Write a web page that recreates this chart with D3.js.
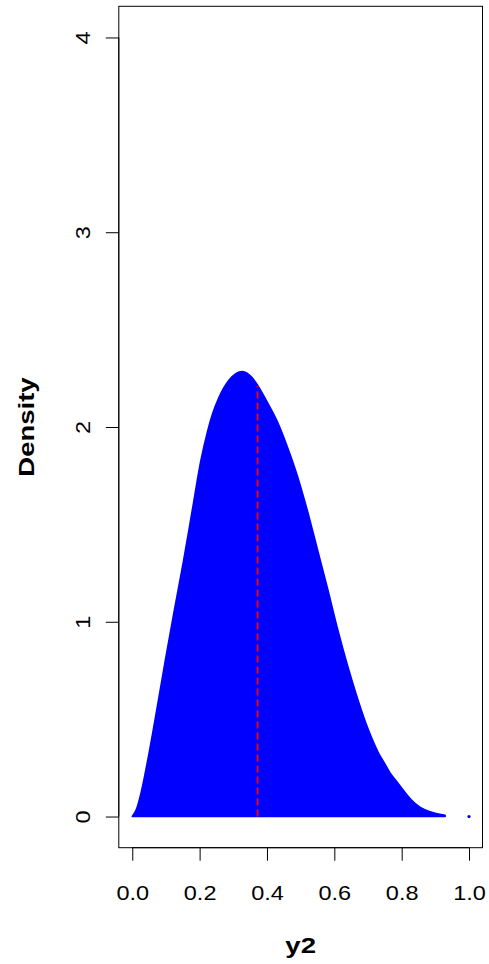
<!DOCTYPE html>
<html>
<head>
<meta charset="utf-8">
<script src="https://cdn.jsdelivr.net/npm/d3@7"></script>
<style>
  html, body { margin: 0; padding: 0; background: #fff; }
  svg { display: block; font-family: "Liberation Sans", Arial, sans-serif; }
</style>
</head>
<body>
<svg id="chart" width="489" height="964"></svg>
<script>
// --- Data ---
const xTicks = [0, 0.2, 0.4, 0.6, 0.8, 1.0];
const yTicks = [0, 1, 2, 3, 4];

// density curve of y2 (x position, density height)
const densX = [0.000, 0.013, 0.026, 0.046, 0.072, 0.098, 0.125, 0.152, 0.178, 0.204,
  0.224, 0.239, 0.257, 0.287, 0.327, 0.355, 0.372, 0.400, 0.430, 0.460, 0.490,
  0.520, 0.550, 0.580, 0.610, 0.640, 0.670, 0.700, 0.730, 0.750, 0.765, 0.785,
  0.805, 0.829, 0.854, 0.889, 0.929];
const densY = [0.00, 0.04, 0.12, 0.29, 0.54, 0.80, 1.06, 1.31, 1.57, 1.83,
  1.98, 2.07, 2.15, 2.24, 2.285, 2.255, 2.215, 2.13, 2.03, 1.90, 1.75,
  1.57, 1.37, 1.17, 0.96, 0.77, 0.60, 0.45, 0.33, 0.27, 0.225, 0.18,
  0.135, 0.085, 0.048, 0.022, 0.006];

// lone sample at the right end
const loneX = [1.0];
const loneY = [0];

// dashed marker (mean of y2)
const markX = 0.372;
const markTop = 2.21;

// --- Set up ---
const svg = d3.select("#chart");
const box = { left: 118.8, right: 482.5, top: 6.3, bottom: 847.7 };

const x = d3.scaleLinear().domain([-0.04, 1.04]).range([box.left, box.right]);
const y = d3.scaleLinear().domain([-0.16, 4.16]).range([box.bottom, box.top]);

// --- Density shape ---
const pts = densX.map((d, i) => ({ x: d, y: densY[i] }));

const area = d3.area()
  .x(d => x(d.x))
  .y0(y(0))
  .y1(d => y(d.y))
  .curve(d3.curveMonotoneX);

svg.append("path")
  .datum(pts)
  .attr("d", area)
  .attr("fill", "#0000ff")
  .attr("stroke", "#0000ff")
  .attr("stroke-width", 1.6)
  .attr("stroke-linejoin", "round");

svg.selectAll(".lone")
  .data(loneX.map((d, i) => ({ x: d, y: loneY[i] })))
  .join("circle")
  .attr("class", "lone")
  .attr("cx", d => x(d.x))
  .attr("cy", d => y(d.y))
  .attr("r", 1.6)
  .attr("fill", "#0000ff");

// Dashed mean line
svg.append("line")
  .attr("x1", x(markX))
  .attr("x2", x(markX))
  .attr("y1", y(0))
  .attr("y2", y(markTop))
  .attr("stroke", "#ff0000")
  .attr("stroke-width", 1.8)
  .attr("stroke-dasharray", "7 4");

// --- Box ---
svg.append("rect")
  .attr("x", box.left)
  .attr("y", box.top)
  .attr("width", box.right - box.left)
  .attr("height", box.bottom - box.top)
  .attr("fill", "none")
  .attr("stroke", "#000")
  .attr("stroke-width", 1);

// --- Axes ---
const xAxis = svg.append("g")
  .attr("transform", `translate(0,${box.bottom})`)
  .call(d3.axisBottom(x).tickValues(xTicks).tickFormat(d3.format(".1f")).tickSize(13).tickSizeOuter(0));
xAxis.select(".domain")
  .attr("d", `M${x(xTicks[0])},0H${x(xTicks[xTicks.length - 1])}`);
xAxis.selectAll(".tick line").attr("stroke", "#000");
xAxis.selectAll(".tick text")
  .attr("fill", "#000")
  .attr("font-size", 21)
  .attr("font-family", "Liberation Sans, Arial, sans-serif")
  .attr("dy", null)
  .attr("y", 0)
  .attr("transform", "translate(0,52.5) scale(1.12,1)");

const yAxis = svg.append("g")
  .attr("transform", `translate(${box.left},0)`)
  .call(d3.axisLeft(y).tickValues(yTicks).tickFormat(d3.format("d")).tickSize(13).tickSizeOuter(0));
yAxis.select(".domain")
  .attr("d", `M0,${y(yTicks[0])}V${y(yTicks[yTicks.length - 1])}`);
yAxis.selectAll(".tick line").attr("stroke", "#000");
yAxis.selectAll(".tick text")
  .attr("fill", "#000")
  .attr("font-size", 21)
  .attr("font-family", "Liberation Sans, Arial, sans-serif")
  .attr("x", 0)
  .attr("dy", null)
  .attr("text-anchor", "middle")
  .attr("transform", "translate(-28.5,0) rotate(-90) scale(1.12,1)");

// --- Axis titles ---
svg.append("text")
  .attr("transform", `translate(${(box.left + box.right) / 2},953) scale(1.25,1)`)
  .attr("text-anchor", "middle")
  .attr("font-weight", "bold")
  .attr("font-size", 22)
  .text("y2");

svg.append("text")
  .attr("transform", `translate(33.5,${(box.top + box.bottom) / 2}) rotate(-90) scale(1.25,1)`)
  .attr("text-anchor", "middle")
  .attr("font-weight", "bold")
  .attr("font-size", 22)
  .text("Density");
</script>
</body>
</html>
